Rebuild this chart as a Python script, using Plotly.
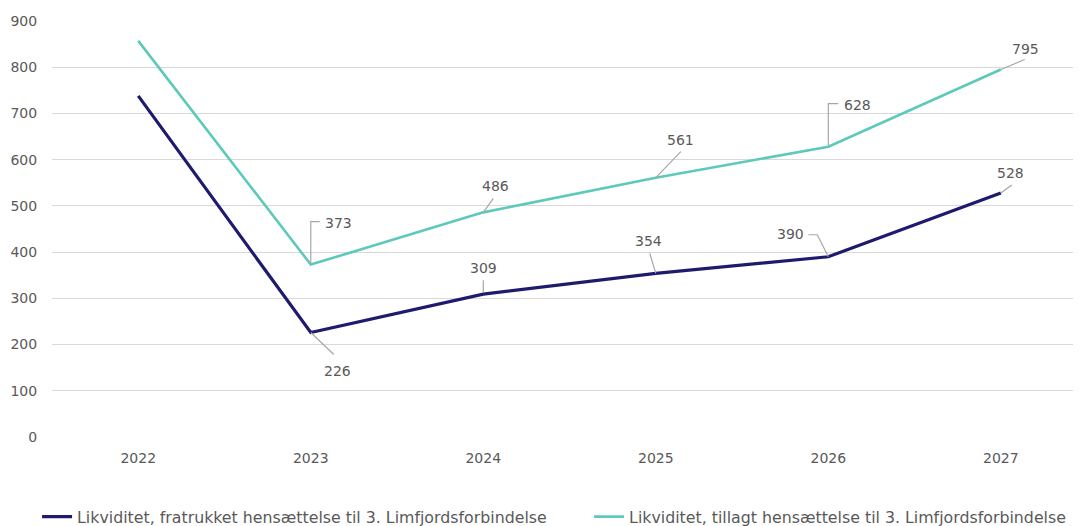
import plotly.graph_objects as go

years = ["2022", "2023", "2024", "2025", "2026", "2027"]
fratrukket = [738, 226, 309, 354, 390, 528]
tillagt = [857, 373, 486, 561, 628, 795]
name_fra = "Likviditet, fratrukket hensættelse til 3. Limfjordsforbindelse"
name_til = "Likviditet, tillagt hensættelse til 3. Limfjordsforbindelse"
y_ticks = [0, 100, 200, 300, 400, 500, 600, 700, 800, 900]

DARK = "#1e1b6e"
TEAL = "#5cc9bb"
GREY = "#595959"
LEADER = "#a6a6a6"
FONT = "DejaVu Sans"

xpos = list(range(len(years)))

# label offsets (screen px: dx right, dy down) and leader paths (screen px) per point
fra_label = {1: (27, 38), 2: (0, -26), 3: (-7, -32), 4: (-38, -23), 5: (10, -20)}
fra_lead = {1: [(0, 0), (23, 22)], 2: [(0, -2), (0, -14)], 3: [(0, 0), (-6, -20)],
            4: [(0, 0), (-11, -22), (-20, -22)], 5: [(0, 0), (11, -8)]}
til_label = {1: (28, -42), 2: (12, -26), 3: (25, -38), 4: (29, -42), 5: (25, -21)}
til_lead = {1: [(0, 0), (0, -43), (9, -43)], 2: [(0, 0), (10, -14)], 3: [(0, 0), (25, -26)],
            4: [(0, 0), (0, -43), (10, -43)], 5: [(0, 0), (24, -10)]}

fig = go.Figure()
fig.add_trace(go.Scatter(x=xpos, y=fratrukket, mode="lines", name=name_fra,
                         line=dict(color=DARK, width=3.2), legend="legend"))
fig.add_trace(go.Scatter(x=xpos, y=tillagt, mode="lines", name=name_til,
                         line=dict(color=TEAL, width=2.6), legend="legend2"))

annotations = []
shapes = []
for vals, labels, leads in [(fratrukket, fra_label, fra_lead), (tillagt, til_label, til_lead)]:
    for i, v in enumerate(vals):
        if i not in labels:
            continue
        dx, dy = labels[i]
        annotations.append(dict(x=xpos[i], y=v, xref="x", yref="y", text=str(v),
                                showarrow=False, xshift=dx, yshift=-dy,
                                font=dict(family=FONT, size=14, color=GREY)))
        pts = leads[i]
        path = "M" + " L".join(f"{px},{-py}" for px, py in pts)
        shapes.append(dict(type="path", xref="x", yref="y", xsizemode="pixel", ysizemode="pixel",
                           xanchor=xpos[i], yanchor=v, path=path,
                           line=dict(color=LEADER, width=1.2), layer="above"))

leg_common = dict(orientation="h", y=-0.151, yanchor="top", xanchor="left",
                  font=dict(family=FONT, size=15.8, color=GREY), bgcolor="rgba(0,0,0,0)")
fig.update_layout(
    width=1073, height=518,
    margin=dict(l=44, r=6, t=13, b=89, autoexpand=False),
    paper_bgcolor="white", plot_bgcolor="white",
    font=dict(family=FONT, color=GREY, size=14),
    showlegend=True,
    legend=dict(x=-0.0146, **leg_common),
    legend2=dict(x=0.525, **leg_common),
    annotations=annotations,
    shapes=shapes,
)
fig.update_xaxes(range=[-0.5, 5.43], tickvals=xpos, ticktext=years, showgrid=False,
                 showline=False, zeroline=False, ticks="outside", ticklen=8,
                 tickcolor="white", automargin=False, tickfont=dict(size=14, color=GREY))
fig.update_yaxes(range=[0, 900], tickvals=y_ticks, showgrid=True, gridcolor="#d9d9d9",
                 gridwidth=1, zeroline=False, showline=False, ticks="outside",
                 ticklen=11, tickcolor="white", automargin=False,
                 tickfont=dict(size=14, color=GREY))

fig.write_html("out.html")
